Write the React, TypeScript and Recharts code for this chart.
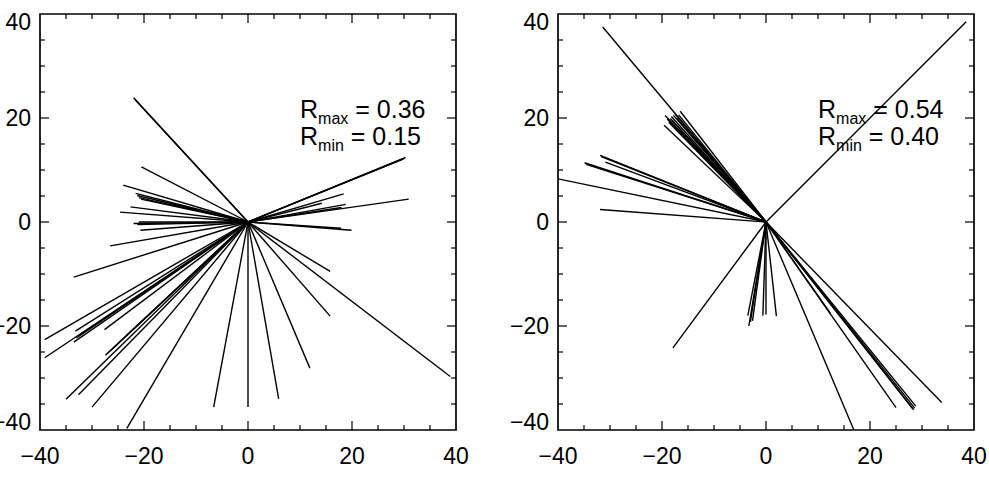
import React from "react";
import { ReferenceArea, Scatter, ScatterChart, XAxis, YAxis } from "recharts";

// endpoints of each segment; every segment starts at the origin
const LEFT_ENDS: [number, number][] = [
  [-22.0, 23.9], [-21.7, 23.5], [-20.5, 10.6], [-24.0, 7.1], [-21.6, 5.5],
  [-21.3, 5.1], [-21.0, 4.7], [-20.6, 4.4], [-22.6, 2.9], [-24.6, 1.9],
  [-22.0, -0.3], [-21.0, 0.0], [-21.3, -0.5], [-20.7, -1.6], [-26.5, -4.6],
  [-33.5, -10.6], [-39.1, -22.6], [-39.1, -26.1], [-33.2, -21.0], [-33.5, -23.1],
  [-33.0, -22.3], [-32.5, -21.8], [-27.6, -20.7], [-27.4, -25.6], [-26.5, -24.8],
  [-23.3, -21.8], [-35.0, -34.1], [-32.6, -33.2], [-30.0, -35.6], [-23.3, -39.7],
  [-6.6, -35.6], [0.0, -35.6], [5.9, -34.0], [11.9, -28.1], [15.8, -18.1],
  [15.8, -9.5], [38.9, -29.7], [19.9, -1.6], [17.9, -1.2], [30.9, 4.4],
  [30.3, 12.4], [29.8, 12.1], [30.0, 12.2], [18.4, 5.4], [18.8, 3.4],
  [14.2, 3.6], [18.0, 2.8],
];

const RIGHT_ENDS: [number, number][] = [
  [-31.4, 37.5], [38.5, 38.5], [-17.9, -24.2], [-19.4, 20.5], [-19.6, 18.6],
  [-18.4, 19.9], [-17.8, 20.5], [-16.5, 21.3], [-18.7, 19.2], [-17.2, 20.0],
  [-18.0, 19.5], [-17.5, 20.8], [-18.2, 20.3], [-16.8, 20.6], [-19.0, 19.8],
  [-31.9, 12.8], [-31.7, 12.6], [-30.9, 11.5], [-34.9, 11.4],
  [-34.6, 11.1], [-40.0, 8.3], [-31.9, 2.4], [-3.3, -20.0], [-3.0, -19.2],
  [-3.5, -18.0], [-2.6, -19.0], [-0.6, -18.0], [0.0, -17.8], [2.0, -18.1],
  [16.9, -40.0], [25.0, -35.7], [28.4, -36.1], [28.8, -35.4], [28.6, -35.8],
  [28.2, -35.9], [33.8, -34.7], [12.4, -17.6],
];

const TICKS = [-40, -35, -30, -25, -20, -15, -10, -5, 0, 5, 10, 15, 20, 25, 30, 35, 40];
const LEFT_STATS = ["0.36", "0.15"];
const RIGHT_STATS = ["0.54", "0.40"];

const FONT = "'Liberation Sans', Arial, Helvetica, sans-serif";
const PLOT = 416;
const INK = "#000";

const fmt = (v: number) => (v < 0 ? `\u2212${Math.abs(v)}` : `${v}`);

function XTick({ x, y, payload }: any) {
  const v = payload.value;
  const major = v % 20 === 0;
  const len = major ? 9 : 5;
  const edge = Math.abs(v) === 40;
  return (
    <g>
      {!edge && <line x1={x} y1={y} x2={x} y2={y - len} stroke={INK} strokeWidth={1.2} />}
      {!edge && <line x1={x} y1={y - PLOT} x2={x} y2={y - PLOT + len} stroke={INK} strokeWidth={1.2} />}
      {major && (
        <text x={x} y={y + 34} textAnchor="middle" fontSize={23} fontFamily={FONT} fill={INK}>
          {fmt(v)}
        </text>
      )}
    </g>
  );
}

function YTick({ x, y, payload }: any) {
  const v = payload.value;
  const major = v % 20 === 0;
  const len = major ? 9 : 5;
  const edge = Math.abs(v) === 40;
  const shift = v === 40 ? 8 : v === -40 ? -8 : 0;
  return (
    <g>
      {!edge && <line x1={x} y1={y} x2={x + len} y2={y} stroke={INK} strokeWidth={1.2} />}
      {!edge && <line x1={x + PLOT} y1={y} x2={x + PLOT - len} y2={y} stroke={INK} strokeWidth={1.2} />}
      {major && (
        <text x={x - 9} y={y + 8 + shift} textAnchor="end" fontSize={23} fontFamily={FONT} fill={INK}>
          {fmt(v)}
        </text>
      )}
    </g>
  );
}

function Panel({ ends, left, axisW }: { ends: [number, number][]; left: number; axisW: number }) {
  return (
    <div style={{ position: "absolute", left, top: 0 }}>
      <ScatterChart width={axisW + PLOT + 14} height={485} margin={{ top: 14, right: 14, bottom: 25, left: 0 }}>
        <XAxis
          type="number"
          dataKey="x"
          domain={[-40, 40]}
          ticks={TICKS}
          interval={0}
          allowDataOverflow
          tickSize={0}
          tickMargin={0}
          height={30}
          axisLine={false}
          tickLine={false}
          tick={(p: any) => <XTick {...p} />}
        />
        <YAxis
          type="number"
          dataKey="y"
          domain={[-40, 40]}
          ticks={TICKS}
          interval={0}
          allowDataOverflow
          tickSize={0}
          tickMargin={0}
          width={axisW}
          axisLine={false}
          tickLine={false}
          tick={(p: any) => <YTick {...p} />}
        />
        <ReferenceArea x1={-40} x2={40} y1={-40} y2={40} fill="none" stroke={INK} strokeWidth={1.7} ifOverflow="visible" />
        {ends.map(([ex, ey], i) => (
          <Scatter
            key={i}
            data={[{ x: 0, y: 0 }, { x: ex, y: ey }]}
            line={{ stroke: "#000", strokeWidth: 1.4 }}
            shape={() => <g />}
            isAnimationActive={false}
          />
        ))}
      </ScatterChart>
    </div>
  );
}

function Stats({ x, vals }: { x: number; vals: string[] }) {
  return (
    <g fontFamily={FONT} fill={INK}>
      <text x={x} y={118} fontSize={25}>
        R<tspan fontSize={16} dy={6}>max</tspan>
        <tspan dy={-6}> = {vals[0]}</tspan>
      </text>
      <text x={x} y={145} fontSize={25}>
        R<tspan fontSize={16} dy={6}>min</tspan>
        <tspan dy={-6}> = {vals[1]}</tspan>
      </text>
    </g>
  );
}

export default function App() {
  return (
    <div style={{ position: "absolute", left: 0, top: 0, width: 989, height: 485, background: "#fff", overflow: "hidden" }}>
      <Panel ends={LEFT_ENDS} left={0} axisW={40} />
      <Panel ends={RIGHT_ENDS} left={500} axisW={58} />
      <svg width={989} height={485} style={{ position: "absolute", left: 0, top: 0, pointerEvents: "none" }}>
        <Stats x={300} vals={LEFT_STATS} />
        <Stats x={818} vals={RIGHT_STATS} />
      </svg>
    </div>
  );
}
